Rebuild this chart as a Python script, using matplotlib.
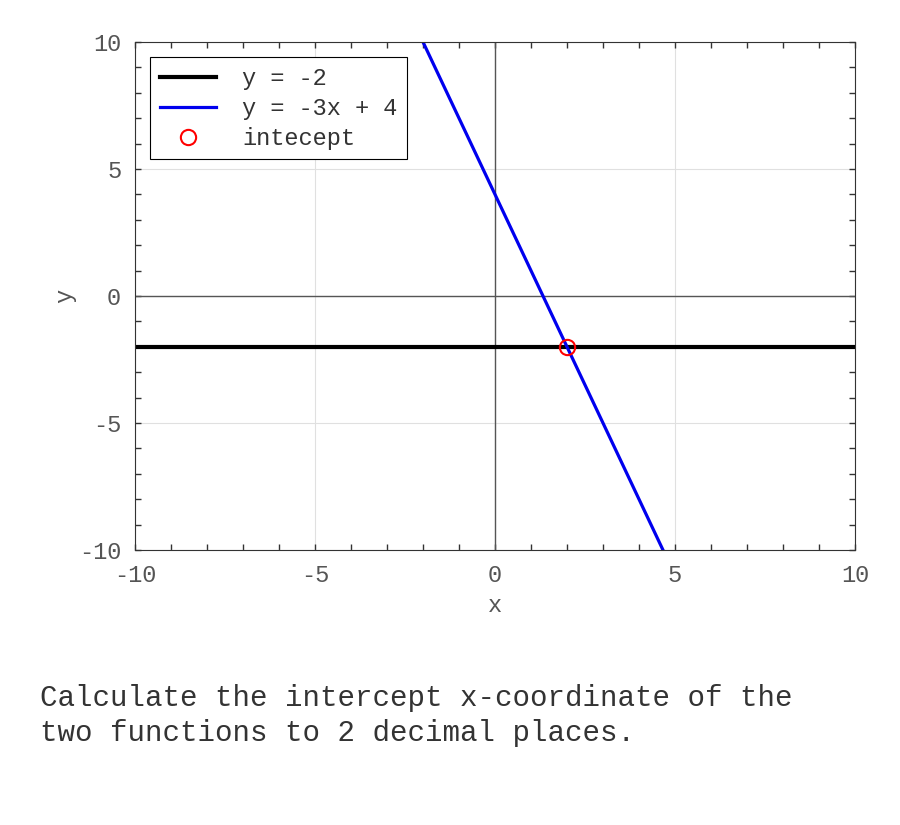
import numpy as np
import matplotlib.pyplot as plt

# data
x_line = np.array([-10, 10])
y_const = np.array([-2, -2])
y_blue = -3 * x_line + 4
x_int = [2]
y_int = [-2]
labels = ['y = -2', 'y = -3x + 4', 'intecept']
question = 'Calculate the intercept x-coordinate of the\ntwo functions to 2 decimal places.'

plt.rcParams['font.family'] = ['Liberation Mono', 'DejaVu Sans Mono']
plt.rcParams['axes.unicode_minus'] = False

fig = plt.figure(figsize=(9, 8.25), dpi=100)
ax = fig.add_axes([0.15, 0.3333, 0.8, 0.6158])

ax.grid(True, which='major', color='#e0e0e0', linewidth=0.8)
ax.axhline(0, color='#555555', linewidth=1)
ax.axvline(0, color='#555555', linewidth=1)

ax.plot(x_line, y_const, color='black', linewidth=3, label=labels[0])
ax.plot(x_line, y_blue, color='#0000ee', linewidth=2.3, label=labels[1])
ax.plot(x_int, y_int, 'o', markerfacecolor='none', markeredgecolor='red',
        markersize=11, markeredgewidth=1.5, label=labels[2])

ax.set_xlim(-10, 10)
ax.set_ylim(-10, 10)
ax.set_xticks(np.arange(-10, 10.1, 5))
ax.set_yticks(np.arange(-10, 10.1, 5))
ax.set_xticks(np.arange(-10, 10.1, 1), minor=True)
ax.set_yticks(np.arange(-10, 10.1, 1), minor=True)
ax.tick_params(which='both', direction='in', top=True, right=True,
               length=4, width=1, colors='#333333', labelcolor='#555555',
               labelsize=17)
ax.tick_params(axis='x', pad=10)
ax.tick_params(axis='y', pad=10)
for s in ax.spines.values():
    s.set_color('#333333')

ax.set_xlabel('x', fontsize=17, color='#555555', labelpad=5)
ax.set_ylabel('y', fontsize=17, color='#555555', labelpad=2)

leg = ax.legend(loc='upper left', fontsize=17, fancybox=False,
                edgecolor='black', framealpha=1, handlelength=2.4,
                handletextpad=1.1, borderaxespad=0.65, labelspacing=0.3,
                borderpad=0.4)
leg.get_frame().set_linewidth(0.8)
for t in leg.get_texts():
    t.set_color('#333333')

fig.text(0.045, 0.094, question, fontsize=21, color='#333333',
         va='bottom', linespacing=1.35)

fig.savefig('out.png', dpi=100)
